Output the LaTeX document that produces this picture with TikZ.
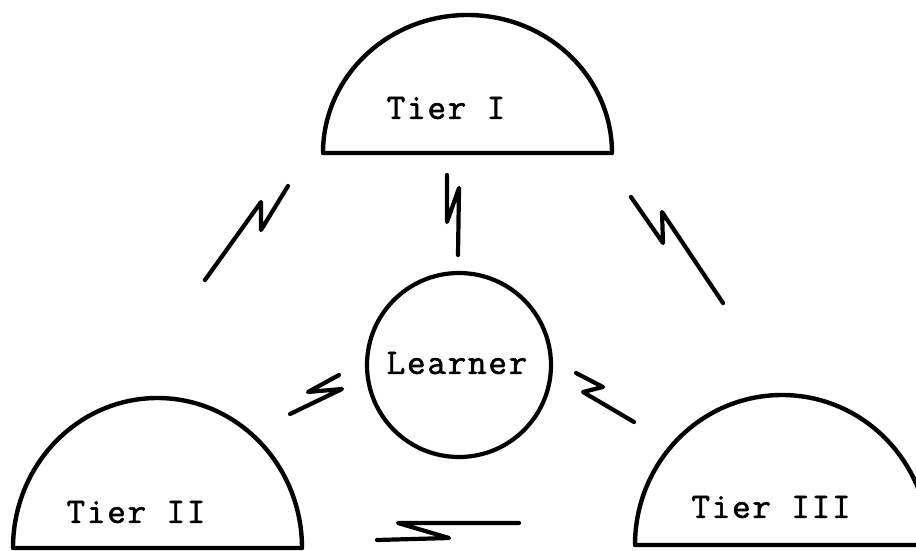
\documentclass[tikz,border=0pt]{standalone}
\usepackage{fontspec}
\newfontfamily\tw{Latin Modern Mono}[LetterSpace=5,FakeBold=1.6]
\begin{document}
\begin{tikzpicture}[x=1pt,y=-1pt,
  dome/.style={line width=4.4pt, line join=round},
  bolt/.style={line width=4.2pt, line cap=round, line join=round},
  lbl/.style={font=\tw\fontsize{36}{38}\selectfont, inner sep=0pt}]
\useasboundingbox (0,0) rectangle (916,550);
% Tier I
\draw[dome] (323,153) arc[start angle=180, end angle=0, x radius=144.5, y radius=-138] -- cycle;
\node[lbl] (t1) at (446,108) {Tier I};
% Tier II
\draw[dome] (13,548) arc[start angle=180, end angle=0, x radius=144.5, y radius=-150] -- cycle;
\node[lbl] (t2) at (136,512) {Tier II};
% Tier III
\draw[dome] (635,545) arc[start angle=180, end angle=0, x radius=147, y radius=-150] -- cycle;
\node[lbl] (t3) at (771,507) {Tier III};
% Learner
\node[draw, circle, line width=4.2pt, minimum size=184pt, inner sep=0pt] (lc) at (459,365) {};
\node[lbl] (ln) at (457,363) {Learner};
% bolts
\draw[bolt] (205,280) -- (261,202) -- (261,230) -- (288,186);
\draw[bolt] (447,175) -- (447,222) -- (459,188) -- (458,255);
\draw[bolt] (631,197) -- (663,243) -- (662,212) -- (723,303);
\draw[bolt] (339,375) -- (308,392) -- (342,389) -- (290,414);
\draw[bolt] (576,373) -- (603,387) -- (583,392) -- (634,422);
\draw[bolt] (377,540) -- (449,538) -- (398,523) -- (519,523);
\end{tikzpicture}
\end{document}
